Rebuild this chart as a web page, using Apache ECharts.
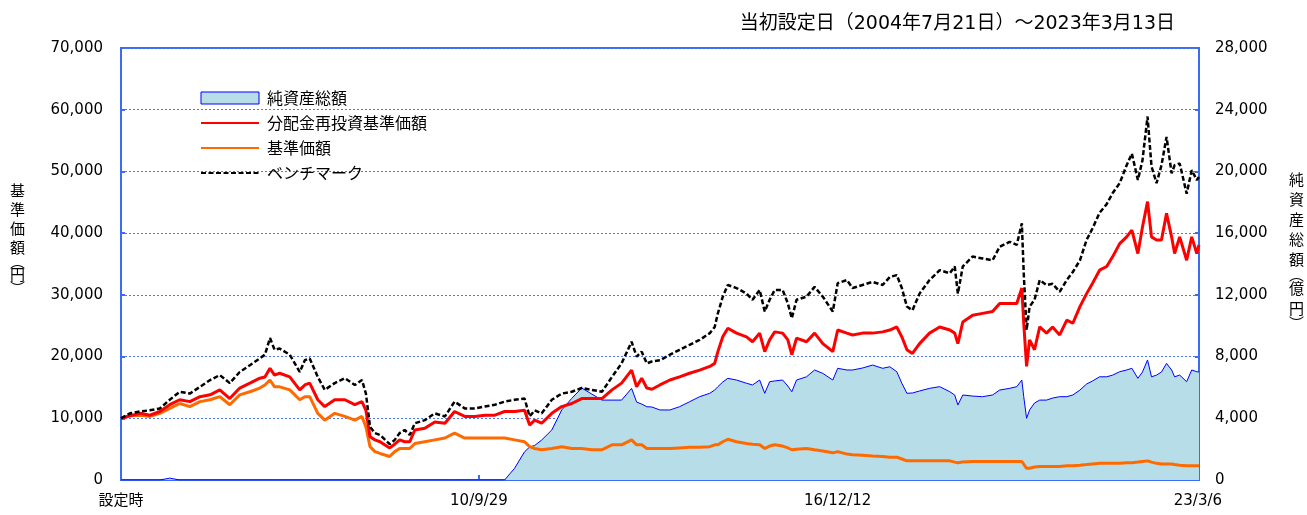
<!DOCTYPE html>
<html>
<head>
<meta charset="utf-8">
<script src="https://cdn.jsdelivr.net/npm/echarts@6/dist/echarts.min.js"></script>
<style>
html, body { margin: 0; background: #fff; }
#chart { width: 1307px; height: 515px; }
</style>
</head>
<body>
<div id="chart"></div>
<script>
// 日付（設定日 2004/7/21 ～ 2023/3/13）
var dates = [
    '2004-07-21','2004-09-16','2004-11-18','2005-01-20','2005-03-23','2005-05-25','2005-07-27','2005-09-29','2005-12-02','2006-02-04',
    '2006-04-06','2006-06-08','2006-08-10','2006-10-13','2006-12-15','2007-01-16','2007-02-17','2007-03-18','2007-04-19','2007-06-22',
    '2007-08-24','2007-09-25','2007-10-26','2007-12-16','2008-01-29','2008-04-01','2008-06-04','2008-08-06','2008-09-20','2008-10-15',
    '2008-11-10','2008-12-11','2009-01-12','2009-03-14','2009-04-15','2009-05-16','2009-06-17','2009-07-19','2009-08-20','2009-10-22',
    '2009-12-24','2010-02-26','2010-04-28','2010-07-01','2010-09-03','2010-11-05','2011-01-08','2011-03-10','2011-05-12','2011-07-14',
    '2011-08-15','2011-09-16','2011-10-30','2012-01-02','2012-03-05','2012-05-07','2012-07-09','2012-09-11','2012-11-14','2013-01-16',
    '2013-03-18','2013-05-20','2013-06-21','2013-07-23','2013-08-24','2013-09-25','2013-11-15','2014-01-17','2014-03-19','2014-05-21',
    '2014-07-24','2014-09-26','2014-10-27','2014-11-16','2014-12-17','2015-01-18','2015-03-14','2015-05-16','2015-06-23','2015-08-07',
    '2015-09-08','2015-10-09','2015-11-10','2015-12-30','2016-02-01','2016-02-26','2016-03-27','2016-05-29','2016-07-19','2016-09-09',
    '2016-11-11','2016-12-12','2017-02-08','2017-03-16','2017-05-18','2017-07-20','2017-09-22','2017-11-06','2017-12-20','2018-01-21',
    '2018-02-22','2018-03-29','2018-05-13','2018-07-15','2018-09-17','2018-11-20','2018-12-21','2019-01-10','2019-02-10','2019-04-13',
    '2019-06-15','2019-08-17','2019-10-01','2019-12-03','2020-01-17','2020-02-18','2020-03-01','2020-03-19','2020-04-07','2020-05-08',
    '2020-06-10','2020-07-23','2020-08-30','2020-10-14','2020-11-28','2021-01-05','2021-02-19','2021-04-02','2021-05-10','2021-06-23',
    '2021-08-07','2021-09-14','2021-10-28','2021-12-11','2022-01-13','2022-02-20','2022-03-21','2022-04-22','2022-05-17','2022-06-18',
    '2022-07-19','2022-08-20','2022-09-21','2022-10-10','2022-11-11','2022-12-25','2023-01-26','2023-02-27','2023-03-13'
];

// ベンチマーク（円）
var benchmark = [
    10000,10800,11100,11300,11600,13000,14300,14000,15100,16200,
    17000,15700,17500,18600,19700,20300,23000,21100,21300,20300,
    17500,19400,19700,16700,14600,15700,16500,15400,16200,14000,
    8600,7600,7300,5800,6500,7600,8100,7300,9200,9700,
    10800,10300,12700,11600,11600,11900,12200,12700,13000,13200,
    10300,11300,10800,13000,14000,14300,14900,14600,14300,16700,
    18900,22400,20000,20800,18900,19200,19400,20300,21100,21900,
    22700,23800,24800,27000,29700,31600,31100,30200,29200,30800,
    27300,29200,30800,30800,28600,26200,29200,29700,31300,29700,
    27300,31900,32400,31100,31600,32100,31600,32900,33200,31100,
    28100,27500,30200,32400,34000,33500,34600,30200,34600,36200,
    35900,35600,37800,38600,38100,41600,33500,24300,28100,29200,
    32400,31600,31800,30500,32400,33700,35600,38900,40800,43300,
    44700,46500,48100,51000,52900,48600,51800,58900,50800,48100,
    51000,55600,49700,51000,51300,46400,50200,48600,49100
];

// 分配金再投資基準価額（円）
var navReinvest = [
    10000,10400,10800,10500,11100,12200,13000,12700,13500,13800,
    14600,13200,14900,15700,16500,16700,18100,17000,17300,16700,
    14600,15400,15700,13000,11900,13000,13000,12200,12700,11300,
    7000,6500,6200,5200,5800,6500,6200,6200,8100,8400,
    9400,9200,11100,10300,10300,10500,10500,11100,11100,11300,
    8900,9700,9200,10800,11900,12400,13200,13200,13200,14600,
    15700,17800,15100,16500,14900,14700,15400,16200,16700,17300,
    17800,18400,18900,20800,23200,24600,23800,23200,22400,23800,
    20800,22700,24000,23800,22700,20300,23000,22400,23800,22100,
    20800,24300,23800,23500,23800,23800,24000,24300,24800,23200,
    21100,20500,22100,23800,24800,24300,23800,22100,25600,26700,
    27000,27300,28600,28600,28600,31100,25400,18400,22700,21100,
    24800,23800,24800,23500,25900,25400,28100,30200,31900,34000,
    34600,36200,38300,39400,40500,36700,41000,45100,39400,38900,
    38900,43200,39400,36700,39400,35600,39400,36700,38100
];

// 基準価額（円）
var nav = [
    10000,10400,10500,10300,10800,11600,12400,11900,12700,13000,
    13500,12200,13800,14300,14900,15400,16200,15100,15100,14600,
    13000,13500,13500,10800,9700,10800,10300,9700,10300,8600,
    5400,4600,4300,3800,4600,5100,5100,5100,5900,6200,
    6500,6800,7600,6800,6800,6800,6800,6800,6500,6200,
    5400,5100,4900,5100,5400,5100,5100,4900,4900,5700,
    5700,6500,5700,5700,5100,5100,5100,5100,5200,5300,
    5300,5400,5700,5700,6200,6600,6200,5900,5800,5700,
    5100,5500,5700,5500,5200,4900,5000,5100,4900,4700,
    4400,4600,4200,4100,4000,3900,3800,3700,3700,3400,
    3100,3100,3100,3100,3100,3100,2900,2800,2900,3000,
    3000,3000,3000,3000,3000,3000,2800,1900,1900,2100,
    2200,2200,2200,2200,2300,2300,2400,2500,2600,2700,
    2700,2700,2700,2800,2800,2900,3000,3100,2900,2700,
    2600,2600,2600,2500,2400,2300,2300,2300,2300
];

// 純資産総額（億円）
var netAssets = [
    0,0,0,0,0,120,0,0,0,0,
    0,0,0,0,0,0,0,0,0,0,
    0,0,0,0,0,0,0,0,0,0,
    0,0,0,0,0,0,0,0,0,0,
    0,0,0,0,0,0,0,0,760,1830,
    2140,2240,2590,3240,4540,5290,5960,5570,5180,5180,
    5180,5940,5050,4920,4750,4730,4540,4540,4750,5070,
    5400,5620,5830,6050,6350,6590,6480,6270,6160,6480,
    5620,6370,6420,6480,6090,5720,6480,6690,7130,6910,
    6480,7240,7130,7130,7260,7450,7240,7340,7020,6270,
    5620,5640,5770,5940,6050,5720,5510,4860,5510,5440,
    5400,5510,5830,5940,6050,6480,5400,4000,4540,4990,
    5180,5180,5310,5400,5400,5510,5830,6220,6420,6690,
    6690,6800,7020,7130,7240,6590,7000,7780,6690,6800,
    7000,7560,7130,6690,6800,6370,7130,7020,7000
];

var xLabelDates = ['2004-07-21', '2010-09-29', '2016-12-12', '2023-03-06'];
var xTickDates = ['2010-09-29', '2016-12-12'];

var blue = '#3a6cf4';
var cjk = "'Noto Sans CJK JP', sans-serif";
var latin = "'DejaVu Sans', 'Noto Sans CJK JP', sans-serif";

function toTime(s) {
    return new Date(s + 'T00:00:00').getTime();
}

function pairs(values) {
    var out = [];
    values.forEach(function (v, i) {
        out.push([toTime(dates[i]), v]);
    });
    return out;
}

function comma(v) {
    return String(v).replace(/\B(?=(\d{3})+(?!\d))/g, ',');
}

var startTime = toTime(dates[0]);

var myChart = echarts.init(document.getElementById('chart'));

// 凡例の線だけを見せる（丸い記号を消す）
var lineLegend = { opacity: 0 };

var option = {
    animation: false,
    backgroundColor: '#fff',
    title: {
        text: '当初設定日（2004年7月21日）～2023年3月13日',
        right: 127,
        top: 10,
        textStyle: { fontSize: 19, fontWeight: 'normal', color: '#000', fontFamily: latin }
    },
    legend: {
        orient: 'vertical',
        left: 200,
        top: 90,
        padding: 0,
        itemWidth: 58,
        itemHeight: 12,
        itemGap: 9,
        textStyle: { fontSize: 16, color: '#000', fontFamily: cjk, lineHeight: 16, padding: [0, 0, 0, 3] },
        data: [
            { name: '純資産総額', icon: 'rect', itemStyle: { color: '#b6dde8', borderColor: '#0000ff', borderWidth: 1 } },
            { name: '分配金再投資基準価額', itemStyle: lineLegend },
            { name: '基準価額', itemStyle: lineLegend },
            { name: 'ベンチマーク', itemStyle: lineLegend }
        ]
    },
    grid: {
        left: 121,
        right: 108,
        top: 48,
        bottom: 35,
        show: true,
        borderColor: blue,
        borderWidth: 2,
        outerBoundsMode: 'none'
    },
    graphic: [
        {
            type: 'text',
            left: 10,
            top: 183,
            style: {
                text: '{c|基}\n{c|準}\n{c|価}\n{c|額}\n{b|︵}\n{c|円}\n{b|︶}',
                rich: {
                    c: { fontSize: 15, lineHeight: 19, fontFamily: cjk, fill: '#000' },
                    b: { fontSize: 15, lineHeight: 8, fontFamily: cjk, fill: '#000' }
                }
            }
        },
        {
            type: 'text',
            left: 1289,
            top: 172,
            style: {
                text: '{c|純}\n{c|資}\n{c|産}\n{c|総}\n{c|額}\n{b|︵}\n{c|億}\n{c|円}\n{b|︶}',
                rich: {
                    c: { fontSize: 15, lineHeight: 20, fontFamily: cjk, fill: '#000' },
                    b: { fontSize: 15, lineHeight: 9, fontFamily: cjk, fill: '#000' }
                }
            }
        }
    ],
    xAxis: {
        type: 'value',
        min: startTime,
        max: toTime(dates[dates.length - 1]),
        splitLine: { show: false },
        axisLine: { lineStyle: { color: blue, width: 2 } },
        axisTick: {
            show: true,
            inside: true,
            length: 5,
            customValues: xTickDates.map(toTime),
            lineStyle: { color: blue, width: 2 }
        },
        axisLabel: {
            customValues: xLabelDates.map(toTime),
            margin: 14,
            fontSize: 15,
            color: '#000',
            fontFamily: latin,
            formatter: function (value) {
                if (value === startTime) return '設定時';
                var d = new Date(value);
                return (d.getFullYear() % 100) + '/' + (d.getMonth() + 1) + '/' + d.getDate();
            }
        }
    },
    yAxis: [
        {
            type: 'value',
            min: 0,
            max: 70000,
            interval: 10000,
            axisLine: { show: true, lineStyle: { color: blue, width: 2 } },
            axisTick: { show: true, inside: true, length: 4, lineStyle: { color: blue, width: 2 } },
            axisLabel: { margin: 18, fontSize: 15, color: '#000', fontFamily: latin, formatter: comma },
            splitLine: { show: true, lineStyle: { color: '#4a78f2', width: 1, type: [2, 2] } }
        },
        {
            type: 'value',
            min: 0,
            max: 28000,
            interval: 4000,
            axisLine: { show: true, lineStyle: { color: blue, width: 2 } },
            axisTick: { show: true, inside: true, length: 4, lineStyle: { color: blue, width: 2 } },
            axisLabel: { margin: 16, fontSize: 15, color: '#000', fontFamily: latin, formatter: comma },
            splitLine: { show: false }
        }
    ],
    series: [
        {
            name: '純資産総額',
            type: 'line',
            yAxisIndex: 1,
            symbol: 'none',
            data: pairs(netAssets),
            lineStyle: { color: '#0000ff', width: 1 },
            itemStyle: { color: '#b6dde8' },
            areaStyle: { color: '#b6dde8', opacity: 1 },
            z: 1
        },
        {
            name: '基準価額',
            type: 'line',
            symbol: 'none',
            data: pairs(nav),
            lineStyle: { color: '#ff6a00', width: 3 },
            itemStyle: { color: '#ff6a00' },
            z: 2
        },
        {
            name: '分配金再投資基準価額',
            type: 'line',
            symbol: 'none',
            data: pairs(navReinvest),
            lineStyle: { color: '#ff0000', width: 3 },
            itemStyle: { color: '#ff0000' },
            z: 3
        },
        {
            name: 'ベンチマーク',
            type: 'line',
            symbol: 'none',
            data: pairs(benchmark),
            lineStyle: { color: '#000000', width: 2.5, type: [5, 2.5] },
            itemStyle: { color: '#000000' },
            z: 4
        }
    ]
};

myChart.setOption(option);
</script>
</body>
</html>
